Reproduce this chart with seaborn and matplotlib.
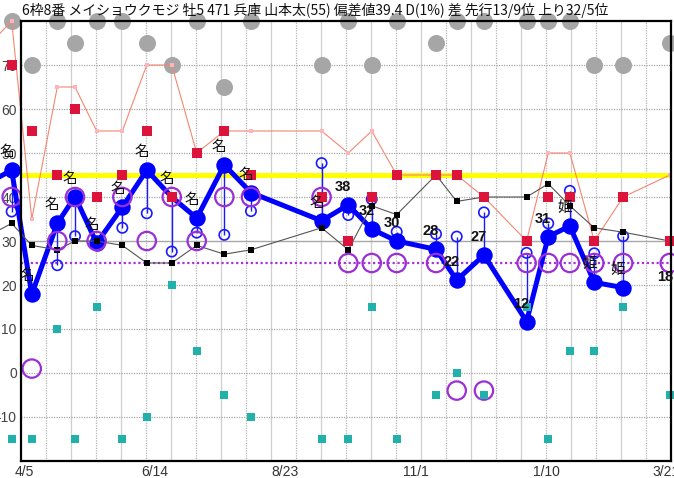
import numpy as np
import pandas as pd
import matplotlib
matplotlib.use("Agg")
import matplotlib.pyplot as plt
import seaborn as sns

# ---------------- data (x = days after 4/5) ----------------
race_day = [-20.3, -6.9, 3.9, 17.6, 27.1, 38.7, 52.5, 65.6, 79.0, 92.4, 107.2, 121.5,
            159.4, 173.7, 186.3, 199.7, 220.8, 231.9, 246.5, 269.4, 281.0, 292.6,
            305.7, 321.2, 346.2]
index_val = [43, 46.1, 17.9, 34.0, 40.1, 29.5, 37.7, 46.1, 40.0, 35.2, 47.3, 41.0,
             34.6, 38.2, 32.7, 30.0, 28.1, 21.1, 26.8, 11.7, 31.0, 33.4, 20.6, 19.4, 17.7]
index_dot = [1, 1, 1, 1, 1, 1, 1, 1, 0, 1, 1, 1,
             1, 1, 1, 1, 1, 1, 1, 1, 1, 1, 1, 1, 0]
index_lbl = ["", "名", "名", "名", "名", "名", "名", "名", "名", "名", "名", "名",
             "名", "38", "32", "30", "28", "22", "27", "12", "31", "姫", "姫", "姫", "18"]
sub_val = [np.nan, 36.7, np.nan, 24.5, 31.1, 29.1, 33.0, 36.3, 27.6, 31.9, 31.4, 36.8,
           47.7, 35.9, 39.5, 32.1, 31.6, 31.0, 36.5, 27.3, 34.0, 41.4, 27.2, 31.1, np.nan]
red_val = [np.nan, 70, 55, 45, 60, 40, 45, 55, 40, 50, 55, 45,
           40, 30, 40, 45, 45, 45, 40, 30, 40, 40, 30, 40, 30]
pink_val = [74, 80, 35, 65, 65, 55, 55, 70, 70, 50, 55, 55,
            55, 50, 55, 45, 45, 45, 40, 30, 50, 50, 30, 40, 45]
black_val = [31, 34, 29, 28, 30, 30, 29, 25, 25, 29, 27, 28,
             33, 28, 38, 36, 45, 39, 40, 40, 43, 38, 33, 32, 30]
purple_val = [np.nan, 40, 1, 30, 40, 30, 40, 30, 40, 30, 40, 40,
              40, 25, 25, 25, 25, -4, -4, 25, 25, 25, 25, 25, 25]
teal_val = [np.nan, -15, -15, 10, -15, 15, -15, -10, 20, 5, -5, -10,
            -15, -15, 15, -15, -5, 0, -5, 15, -15, 5, 5, 15, -5]
gray_val = [np.nan, 80, 70, 80, 75, 80, 80, 75, 70, 80, 65, 80,
            70, 80, 70, 80, 75, 80, 80, 80, 80, 80, 70, 70, 75]
yellow_level = 45
purple_level = 25
tick_days = [0, 70, 140, 210, 280, 344]
tick_labels = ["4/5", "6/14", "8/23", "11/1", "1/10", "3/21"]
ytick_vals = [-10, 0, 10, 20, 30, 40, 50, 60, 70]
title = "6枠8番 メイショウクモジ 牡5 471 兵庫 山本太(55) 偏差値39.4 D(1%) 差 先行13/9位 上り32/5位"

df = pd.DataFrame({"day": race_day, "idx": index_val, "dot": index_dot, "sub": sub_val,
                   "red": red_val, "pink": pink_val, "black": black_val,
                   "purple": purple_val, "teal": teal_val, "gray": gray_val,
                   "lbl": index_lbl})
done = df.iloc[:-1]            # races with a result
dots = done[done["dot"] == 1]  # races whose index dot is drawn

# ---------------- figure ----------------
sns.set_theme(style="white")
plt.rcParams["font.family"] = ["Liberation Sans", "Noto Sans CJK JP", "DejaVu Sans"]

W, H = 674, 478
fig = plt.figure(figsize=(W / 100, H / 100), dpi=100)
fig.patch.set_facecolor("white")
L, R, T, B = 21, 670.5, 21, 461
ax = fig.add_axes([L / W, 1 - B / H, (R - L) / W, (B - T) / H])
ax.set_facecolor("white")
xmin, xmax = -1.88, 346.6
ax.set_xlim(xmin, xmax)
ax.set_ylim(-20, 80)

# grid
for i, gx in enumerate(np.linspace(xmin, xmax, 27)[1:-1]):
    if i % 2 == 0:
        ax.axvline(gx, color="#b4b4b4", lw=0.9, ls=(0, (1, 1)), zorder=0)
    else:
        ax.axvline(gx, color="#cfcfcf", lw=0.9, zorder=0)
for gy in range(-10, 80, 10):
    if gy == 30:
        ax.axhline(gy, color="#a8a8a8", lw=1.0, zorder=0)
    else:
        ax.axhline(gy, color="#a8a8a8", lw=0.9, ls=(0, (1, 1)), zorder=0)

ax.axhline(yellow_level, color="#ffff00", lw=3.6, zorder=1)
ax.axhline(purple_level, color="#a334d6", lw=1.6, ls=(0, (1, 1.2)), zorder=1.5)

# gray dots
sns.scatterplot(data=df, x="day", y="gray", color="#a6a6a6", s=150, linewidth=0,
                ax=ax, zorder=2, clip_on=False, legend=False)
# pink line
sns.lineplot(data=df, x="day", y="pink", color="#f4876f", lw=0.8, marker="s", ms=3.2,
             mfc="#ffb3bd", mec="#ffb3bd", mew=0, estimator=None, sort=False,
             ax=ax, zorder=3, clip_on=False)
# thin blue sticks + hollow circles
ax.vlines(done["day"], done["idx"], done["sub"], color="#1a1aff", lw=1.0, zorder=4,
          clip_on=False)
sns.scatterplot(data=df, x="day", y="sub", color="#1a1aff", facecolors="none",
                edgecolor="#1a1aff", s=55, linewidth=1.2, ax=ax, zorder=4,
                clip_on=False, legend=False)
# main blue line + dots
sns.lineplot(data=done, x="day", y="idx", color="#0000ff", lw=3.6,
             estimator=None, sort=False, ax=ax, zorder=5, clip_on=False)
sns.scatterplot(data=dots, x="day", y="idx", color="#0000ff", s=140, linewidth=0,
                ax=ax, zorder=5, clip_on=False, legend=False)
# black line
sns.lineplot(data=df, x="day", y="black", color="#555555", lw=0.8, marker="s", ms=4,
             mfc="black", mec="black", mew=0, estimator=None, sort=False,
             ax=ax, zorder=6, clip_on=False)
# purple circles
sns.scatterplot(data=df, x="day", y="purple", color="#9b2fd6", facecolors="none",
                edgecolor="#9b2fd6", s=175, linewidth=1.6, ax=ax, zorder=7,
                clip_on=False, legend=False)
# red squares
sns.scatterplot(data=df, x="day", y="red", color="#dc143c", marker="s", s=58,
                linewidth=0, ax=ax, zorder=8, clip_on=False, legend=False)
# teal squares
sns.scatterplot(data=df, x="day", y="teal", color="#20b2aa", marker="s", s=40,
                linewidth=0, ax=ax, zorder=8, clip_on=False, legend=False)

for d, v, t in zip(df["day"], df["idx"], df["lbl"]):
    if t:
        ax.annotate(t, (d, v), xytext=(-5, 18), textcoords="offset pixels",
                    ha="center", va="center", fontsize=10.5, color="#111111",
                    fontweight="bold" if t.isdigit() else "normal",
                    zorder=12, annotation_clip=False)

# axes styling
for s in ax.spines.values():
    s.set_color("black")
    s.set_linewidth(1.6)
    s.set_zorder(9)
ax.set_xticks(tick_days)
ax.set_xticklabels(tick_labels, fontsize=10, color="#333333")
ax.set_yticks(ytick_vals)
ax.set_yticklabels([str(v) for v in ytick_vals], fontsize=10, color="#444444")
ax.tick_params(length=0, pad=3)
ax.set_xlabel("")
ax.set_ylabel("")
sec = ax.secondary_xaxis("top")
sec.set_xticks(tick_days)
sec.set_xticklabels(tick_labels, fontsize=10, color="#333333")
sec.tick_params(length=0, pad=13)
sec.spines["top"].set_visible(False)

fig.text(22 / W, 1 - 10 / H, title, ha="left", va="center", fontsize=10,
         family=["Noto Sans CJK JP", "DejaVu Sans"], color="#111111")

fig.savefig("out.png", dpi=100, facecolor="white")
